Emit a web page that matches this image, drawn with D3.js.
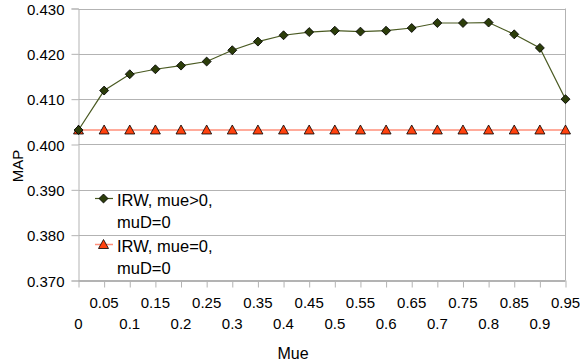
<!DOCTYPE html>
<html><head><meta charset="utf-8">
<script src="https://cdn.jsdelivr.net/npm/d3@7"></script>
<style>
html,body{margin:0;padding:0;background:#fff;}
svg text{font-family:"Liberation Sans",Arial,sans-serif;fill:#000;}
</style></head>
<body><svg id="c" width="580" height="362"></svg>
<script>
const categories = ["0","0.05","0.1","0.15","0.2","0.25","0.3","0.35","0.4","0.45","0.5","0.55","0.6","0.65","0.7","0.75","0.8","0.85","0.9","0.95"];
const seriesNames = ["IRW, mue>0,\nmuD=0", "IRW, mue=0,\nmuD=0"];
const seriesMuePos = [0.4032,0.4119,0.4155,0.4166,0.4174,0.4183,0.4208,0.4227,0.4241,0.4248,0.4251,0.4249,0.4251,0.4257,0.4268,0.4268,0.4269,0.4243,0.4213,0.4100];
const seriesMueZero = [0.4032,0.4032,0.4032,0.4032,0.4032,0.4032,0.4032,0.4032,0.4032,0.4032,0.4032,0.4032,0.4032,0.4032,0.4032,0.4032,0.4032,0.4032,0.4032,0.4032];
const yTicks = [0.370,0.380,0.390,0.400,0.410,0.420,0.430];

const svg = d3.select("#c");
const L = 78.5, R = 565.5, T = 8.5, B = 280.5;
const x = d3.scalePoint().domain(categories).range([L, R]);
const y = d3.scaleLinear().domain([0.37, 0.43]).range([B, T]);
const grid = "#b3b3b3";
const tickFont = 15, legFont = 16.5;

// gridlines
svg.append("g").selectAll("line").data(yTicks).join("line")
  .attr("x1", L).attr("x2", R).attr("y1", d => Math.round(y(d)) + 0.5).attr("y2", d => Math.round(y(d)) + 0.5)
  .attr("stroke", grid).attr("stroke-width", 1);
// right border
svg.append("line").attr("x1", R).attr("x2", R).attr("y1", T).attr("y2", B).attr("stroke", grid);

// y axis
const yAxis = d3.axisLeft(y).tickValues(yTicks).tickFormat(d3.format(".3f")).tickSize(7).tickPadding(7);
const gy = svg.append("g").attr("transform", `translate(${L},0)`).call(yAxis);
gy.select(".domain").attr("stroke", grid);
gy.selectAll(".tick line").attr("stroke", grid);
gy.selectAll(".tick text").attr("font-size", tickFont).attr("dy", "0.38em").attr("font-family", "Liberation Sans, Arial, sans-serif");

// x axis
const xAxis = d3.axisBottom(x).tickSize(7).tickFormat("");
const gx = svg.append("g").attr("transform", `translate(0,${B})`).call(xAxis);
gx.select(".domain").attr("stroke", grid).attr("d", `M${L},0H${R}`);
gx.selectAll(".tick line").attr("stroke", grid);
svg.append("g").selectAll("text").data(categories).join("text")
  .attr("x", d => x(d))
  .attr("y", (d, i) => i % 2 === 1 ? B + 27.5 : B + 48.5)
  .attr("text-anchor", "middle").attr("font-size", tickFont).text(d => d);

// axis titles
svg.append("text").attr("x", 293).attr("y", 359).attr("text-anchor", "middle").attr("font-size", 16).text("Mue");
svg.append("text").attr("transform", "translate(23,166) rotate(-90)").attr("text-anchor", "middle").attr("font-size", 15).text("MAP");

const line = d3.line().x((d, i) => x(categories[i])).y(d => y(d));
const c1line = "#4a5a22", c1fill = "#2c3d0a";
const c2line = "#ff8f7a", c2fill = "#ff420e";

svg.append("path").datum(seriesMueZero).attr("d", line).attr("fill", "none").attr("stroke", c2line).attr("stroke-width", 1.5);
svg.append("path").datum(seriesMuePos).attr("d", line).attr("fill", "none").attr("stroke", c1line).attr("stroke-width", 1.2);

const diamond = d3.symbol().type(d3.symbolSquare).size(40);
const tri = "M0,-5L5,4L-5,4Z";

svg.append("g").selectAll("path").data(seriesMueZero).join("path")
  .attr("transform", (d, i) => `translate(${x(categories[i])},${y(d)})`)
  .attr("d", tri).attr("fill", c2fill).attr("stroke", "#000").attr("stroke-width", 0.8);
svg.append("g").selectAll("path").data(seriesMuePos).join("path")
  .attr("transform", (d, i) => `translate(${x(categories[i])},${y(d)}) rotate(45)`)
  .attr("d", diamond).attr("fill", c1fill).attr("stroke", "#000").attr("stroke-width", 0.8);

// legend
const leg = svg.append("g");
seriesNames.forEach((name, k) => {
  const gy0 = k === 0 ? 198.5 : 244.5;
  const g = leg.append("g").attr("transform", `translate(0,${gy0})`);
  g.append("line").attr("x1", 95).attr("x2", 113).attr("y1", 0).attr("y2", 0)
    .attr("stroke", k === 0 ? c1line : c2line).attr("stroke-width", k === 0 ? 1.2 : 1.5);
  if (k === 0) {
    g.append("path").attr("d", diamond).attr("transform", "translate(103.5,0) rotate(45)").attr("fill", c1fill).attr("stroke", "#000").attr("stroke-width", 0.8);
  } else {
    g.append("path").attr("d", tri).attr("transform", "translate(103.5,0)").attr("fill", c2fill).attr("stroke", "#000").attr("stroke-width", 0.8);
  }
  const lines = name.split("\n");
  lines.forEach((t, j) => {
    g.append("text").attr("x", 117).attr("y", 7 + j * 22).attr("font-size", legFont).text(t);
  });
});
</script></body></html>
